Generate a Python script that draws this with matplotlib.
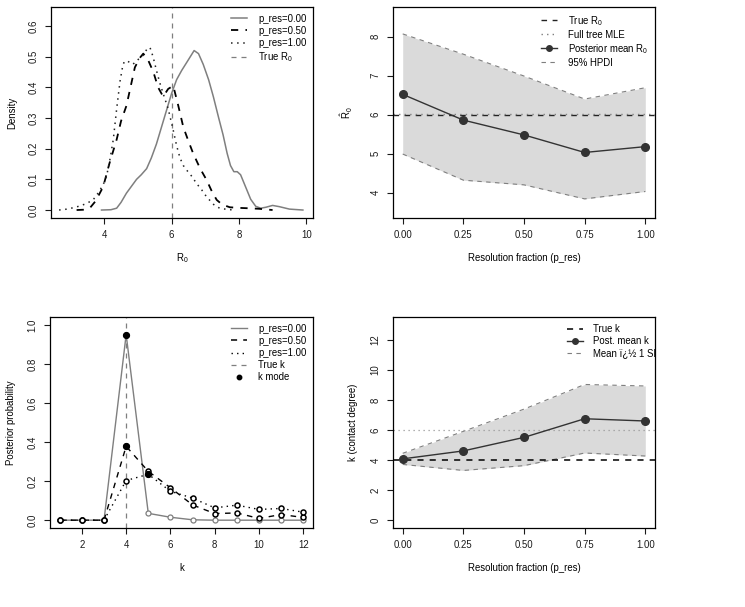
import matplotlib
matplotlib.use("Agg")
import matplotlib.pyplot as plt
import numpy as np

plt.rcParams['font.family'] = ['Liberation Sans', 'DejaVu Sans']
plt.rcParams['mathtext.fontset'] = 'custom'
plt.rcParams['mathtext.rm'] = 'Liberation Sans'
plt.rcParams['mathtext.it'] = 'Liberation Sans'
plt.rcParams['mathtext.default'] = 'regular'
plt.rcParams['font.size'] = 6.9

# --- R0 posterior densities (top left)
dens0_x = [3.92, 4.2, 4.37, 4.5, 4.66, 4.96, 5.1, 5.26, 5.4, 5.55, 5.7, 5.85, 6.0, 6.15, 6.3,
           6.5, 6.67, 6.8, 6.94, 7.1, 7.24, 7.4, 7.53, 7.65, 7.75, 7.85, 7.95, 8.05, 8.2,
           8.35, 8.5, 8.65, 8.8, 9.0, 9.2, 9.5, 9.9]
dens0_y = [0.0, 0.001, 0.006, 0.025, 0.055, 0.10, 0.115, 0.135, 0.17, 0.215, 0.27, 0.325,
           0.38, 0.425, 0.455, 0.49, 0.52, 0.51, 0.475, 0.425, 0.37, 0.30, 0.245, 0.185,
           0.145, 0.125, 0.125, 0.115, 0.075, 0.035, 0.012, 0.006, 0.009, 0.015, 0.011,
           0.003, 0.0]
dens5_x = [3.18, 3.4, 3.57, 3.75, 3.97, 4.15, 4.37, 4.5, 4.66, 4.8, 4.91, 5.05, 5.16, 5.3,
           5.46, 5.6, 5.75, 5.9, 6.05, 6.2, 6.35, 6.5, 6.64, 6.85, 7.04, 7.2, 7.34, 7.5,
           7.73, 8.0, 8.23, 8.6, 9.0]
dens5_y = [0.0, 0.001, 0.006, 0.03, 0.076, 0.15, 0.23, 0.29, 0.34, 0.41, 0.465, 0.495, 0.51,
           0.49, 0.45, 0.40, 0.37, 0.395, 0.405, 0.34, 0.27, 0.225, 0.185, 0.135, 0.098,
           0.06, 0.033, 0.018, 0.009, 0.007, 0.006, 0.004, 0.0]
dens1_x = [2.66, 2.9, 3.18, 3.45, 3.67, 3.85, 4.0, 4.07, 4.17, 4.27, 4.37, 4.47, 4.55, 4.6,
           4.7, 4.85, 5.0, 5.16, 5.27, 5.36, 5.45, 5.55, 5.65, 5.75, 5.9, 6.05, 6.15, 6.25,
           6.35, 6.45, 6.6, 6.74, 6.9, 7.04, 7.25, 7.44, 7.83]
dens1_y = [0.0, 0.003, 0.01, 0.02, 0.033, 0.06, 0.09, 0.11, 0.165, 0.23, 0.33, 0.42, 0.47,
           0.485, 0.485, 0.475, 0.49, 0.505, 0.525, 0.53, 0.50, 0.456, 0.415, 0.38, 0.33,
           0.26, 0.21, 0.17, 0.145, 0.13, 0.11, 0.087, 0.065, 0.043, 0.018, 0.005, 0.0]
true_R0 = 6.0
mle_R0 = 6.02

# --- R0 vs resolution (top right)
p_res = [0.0, 0.25, 0.5, 0.75, 1.0]
r0_mean = [6.52, 5.86, 5.48, 5.03, 5.18]
r0_hpdi_lo = [4.99, 4.32, 4.20, 3.84, 4.03]
r0_hpdi_hi = [8.07, 7.55, 6.99, 6.40, 6.69]

# --- k posterior (bottom left)
k_vals = list(range(1, 13))
pk_0 = [0, 0, 0, 0.95, 0.035, 0.015, 0.002, 0.0, 0.0, 0.0, 0.0, 0.0]
pk_5 = [0, 0, 0, 0.378, 0.25, 0.166, 0.078, 0.034, 0.037, 0.009, 0.029, 0.014]
pk_1 = [0, 0, 0, 0.203, 0.235, 0.148, 0.113, 0.063, 0.077, 0.055, 0.06, 0.041]
true_k = 4

# --- k vs resolution (bottom right)
k_mean = [4.08, 4.61, 5.51, 6.75, 6.60]
k_sd = [0.37, 1.30, 1.88, 2.28, 2.33]
k_ref = 6.0

W, H = 745, 607
fig = plt.figure(figsize=(W / 100, H / 100), dpi=100)

grey = '#7f7f7f'
dash = (0, (4, 4))
dot = (0, (1, 3))
leg_kw = dict(frameon=False, fontsize=6.9, handlelength=1.7, handletextpad=1.1,
              labelspacing=0.22, borderpad=0.2)


def make_ax(x0, y0, x1, y1):
    ax = fig.add_axes([x0 / W, 1 - y1 / H, (x1 - x0) / W, (y1 - y0) / H])
    for s in ax.spines.values():
        s.set_linewidth(0.9)
    ax.tick_params(direction='out', length=4.3, width=0.8, pad=4.5, labelsize=6.9,
                   colors='#1a1a1a')
    ax.tick_params(axis='y', labelrotation=90)
    return ax


def labels(ax, xl, yl, ylx):
    ax.set_xlabel(xl, va='center', fontsize=6.9)
    ax.xaxis.set_label_coords(0.5, -0.19)
    ax.set_ylabel(yl, va='center', fontsize=6.9)
    ax.yaxis.set_label_coords(ylx, 0.5)


# top left
ax1 = make_ax(51, 7, 313, 218)
ax1.axvline(true_R0, color=grey, ls=dash, lw=0.9)
ax1.plot(dens0_x, dens0_y, color=grey, lw=1.1, label='p_res=0.00')
ax1.plot(dens5_x, dens5_y, color='black', ls=dash, lw=1.3, label='p_res=0.50')
ax1.plot(dens1_x, dens1_y, color='#222222', ls=dot, lw=1.1, label='p_res=1.00')
ax1.plot([], [], color=grey, ls=dash, lw=0.9, label='True R$_0$')
ax1.set_xlim(2.42, 10.2)
ax1.set_ylim(-0.026, 0.662)
ax1.set_xticks([4, 6, 8, 10])
ax1.set_yticks(np.arange(0, 0.61, 0.1))
ax1.set_yticklabels(['%.1f' % v for v in np.arange(0, 0.61, 0.1)], va='center')
labels(ax1, 'R$_0$', 'Density', -0.149)
ax1.legend(loc='upper right', borderaxespad=0.5, **leg_kw)

# top right
ax2 = make_ax(393, 7, 655, 218)
ax2.fill_between(p_res, r0_hpdi_lo, r0_hpdi_hi, color='#dadada', lw=0)
ax2.plot(p_res, r0_hpdi_lo, color=grey, ls=dash, lw=0.8)
ax2.plot(p_res, r0_hpdi_hi, color=grey, ls=dash, lw=0.8, label='95% HPDI')
ax2.axhline(true_R0, color='#222222', ls=dash, lw=1.0, label='True R$_0$')
ax2.axhline(mle_R0, color=grey, ls=dot, lw=1.0, label='Full tree MLE')
ax2.plot(p_res, r0_mean, color='#333333', lw=1.0, marker='o', ms=5.5, mfc='#333333',
         mec='#333333', label='Posterior mean R$_0$')
ax2.set_xlim(-0.04, 1.04)
ax2.set_ylim(3.35, 8.76)
ax2.set_xticks(p_res)
ax2.set_xticklabels(['%.2f' % v for v in p_res])
ax2.set_yticks([4, 5, 6, 7, 8])
ax2.set_yticklabels(['4', '5', '6', '7', '8'], va='center')
labels(ax2, 'Resolution fraction (p_res)', r'$\hat{R}_0$', -0.176)
h, l = ax2.get_legend_handles_labels()
order = [1, 2, 3, 0]
h[3] = plt.Line2D([], [], color='#333333', lw=1.0, marker='o', ms=4.0)
ax2.legend([h[i] for i in order], [l[i] for i in order], loc='upper right',
           borderaxespad=0.5, **leg_kw)

# bottom left
ax3 = make_ax(50, 317, 313, 528)
ax3.axvline(true_k, color=grey, ls=dash, lw=0.9)
ax3.plot(k_vals, pk_0, color=grey, lw=1.0, marker='o', ms=3.6, mfc='white', mec=grey,
         mew=0.9)
ax3.plot(k_vals, pk_5, color='black', ls=dash, lw=1.0, marker='o', ms=3.6, mfc='white',
         mec='black', mew=1.1)
ax3.plot(k_vals, pk_1, color='black', ls=dot, lw=1.0, marker='o', ms=3.6, mfc='white',
         mec='black', mew=1.1)
for pk in (pk_0, pk_5, pk_1):
    i = int(np.argmax(pk))
    ax3.plot(k_vals[i], pk[i], 'o', color='black', ms=4.2)
h3 = [plt.Line2D([], [], color=grey, lw=1.0),
      plt.Line2D([], [], color='black', ls=dash, lw=1.1),
      plt.Line2D([], [], color='black', ls=dot, lw=1.0),
      plt.Line2D([], [], color=grey, ls=dash, lw=0.9),
      plt.Line2D([], [], ls='none', marker='o', color='black', ms=3.2)]
ax3.legend(h3, ['p_res=0.00', 'p_res=0.50', 'p_res=1.00', 'True k', 'k mode'],
           loc='upper right', borderaxespad=0.5, **leg_kw)
ax3.set_xlim(0.56, 12.44)
ax3.set_ylim(-0.04, 1.04)
ax3.set_xticks([2, 4, 6, 8, 10, 12])
ax3.set_yticks([0, 0.2, 0.4, 0.6, 0.8, 1.0])
ax3.set_yticklabels(['0.0', '0.2', '0.4', '0.6', '0.8', '1.0'], va='center')
labels(ax3, 'k', 'Posterior probability', -0.149)

# bottom right
ax4 = make_ax(393, 317, 655, 528)
k_lo = [m - s for m, s in zip(k_mean, k_sd)]
k_hi = [m + s for m, s in zip(k_mean, k_sd)]
ax4.fill_between(p_res, k_lo, k_hi, color='#dadada', lw=0)
ax4.plot(p_res, k_lo, color=grey, ls=dash, lw=0.8)
ax4.plot(p_res, k_hi, color=grey, ls=dash, lw=0.8)
ax4.axhline(k_ref, color='#999999', ls=dot, lw=0.9)
ax4.axhline(true_k, color='black', ls=dash, lw=1.1)
ax4.plot(p_res, k_mean, color='#333333', lw=1.0, marker='o', ms=5.5, mfc='#333333',
         mec='#333333')
ax4.set_xlim(-0.04, 1.04)
ax4.set_ylim(-0.52, 13.52)
ax4.set_xticks(p_res)
ax4.set_xticklabels(['%.2f' % v for v in p_res])
ax4.set_yticks([0, 2, 4, 6, 8, 10, 12])
ax4.set_yticklabels(['0', '2', '4', '6', '8', '10', '12'], va='center')
labels(ax4, 'Resolution fraction (p_res)', 'k (contact degree)', -0.154)
h4 = [plt.Line2D([], [], color='black', ls=dash, lw=1.1),
      plt.Line2D([], [], color='#333333', lw=1.0, marker='o', ms=4.0),
      plt.Line2D([], [], color=grey, ls=dash, lw=0.8)]
leg4 = ax4.legend(h4, ['True k', 'Post. mean k', 'Mean \u00ef\u00bf\u00bd 1 SD'],
                  loc='upper left', bbox_to_anchor=(0.655, 0.975), borderaxespad=0.0,
                  **leg_kw)
for t in leg4.get_texts():
    t.set_clip_box(ax4.bbox)
    t.set_clip_on(True)

fig.savefig('out.png', dpi=100)
